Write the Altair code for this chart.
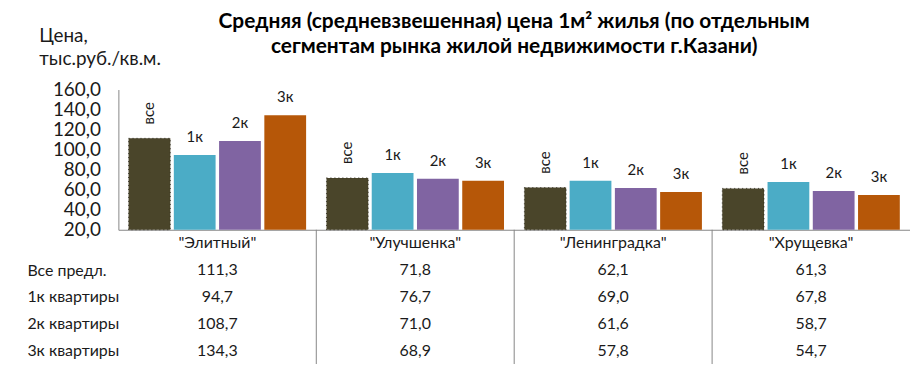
import altair as alt
import pandas as pd

groups = ['"Элитный"', '"Улучшенка"', '"Ленинградка"', '"Хрущевка"']
series = ["все", "1к", "2к", "3к"]
row_labels = ["Все предл.", "1к квартиры", "2к квартиры", "3к квартиры"]
vals_all = [111.3, 71.8, 62.1, 61.3]
vals_1k = [94.7, 76.7, 69.0, 67.8]
vals_2k = [108.7, 71.0, 61.6, 58.7]
vals_3k = [134.3, 68.9, 57.8, 54.7]
y_ticks = [20, 40, 60, 80, 100, 120, 140, 160]
colors = ["#4A452A", "#4BACC6", "#8064A2", "#B65708"]

FONT = "Lato"
GRAY = "#868686"
TXT = "#1a1a1a"

recs = []
for s, lab, vals in zip(series, row_labels, [vals_all, vals_1k, vals_2k, vals_3k]):
    for g, v in zip(groups, vals):
        recs.append({"group": g, "series": s, "row": lab, "value": v})
df = pd.DataFrame(recs)

xscale = alt.Scale(domain=groups, paddingInner=0, paddingOuter=0)
yscale = alt.Scale(domain=[20, 160], zero=False, nice=False)

base = alt.Chart(df)

x_top = alt.X("group:N", sort=groups, scale=xscale,
              axis=alt.Axis(labels=False, ticks=False, title=None,
                            domainColor=GRAY, domainWidth=1))
xoff = alt.XOffset("series:N", sort=series,
                   scale=alt.Scale(domain=series, paddingInner=0.077, paddingOuter=0.225))
y_top = alt.Y("value:Q", scale=yscale,
              axis=alt.Axis(values=y_ticks, grid=False, ticks=False,
                            domainColor=GRAY, domainWidth=1,
                            labelExpr="replace(format(datum.value, '.1f'), '.', ',')",
                            labelFont=FONT, labelFontSize=19, labelColor=TXT,
                            labelPadding=18,
                            title=["Цена,", "тыс.руб./кв.м."], titleAngle=0,
                            titleAlign="left", titleBaseline="top",
                            titleX=-80, titleY=-63, titleFont=FONT,
                            titleFontSize=19, titleFontWeight="normal",
                            titleLineHeight=23, titleColor=TXT))

bars = base.mark_bar().encode(
    x=x_top, xOffset=xoff, y=y_top, y2=alt.datum(20),
    color=alt.Color("series:N", scale=alt.Scale(domain=series, range=colors), legend=None),
)

outline = base.transform_filter(alt.datum.series == "все").mark_bar(
    filled=False, stroke="#1f1d12", strokeWidth=1, strokeDash=[1, 3], strokeOpacity=0.8,
).encode(x=x_top, xOffset=xoff, y=y_top, y2=alt.datum(20))

lab_all = base.transform_filter(alt.datum.series == "все").mark_text(
    angle=270, align="left", baseline="middle", dx=14,
    font=FONT, fontSize=15, color=TXT,
).encode(x=x_top, xOffset=xoff, y=y_top, text="series:N")

lab_other = base.transform_filter(alt.datum.series != "все").mark_text(
    align="center", baseline="middle", dy=-18,
    font=FONT, fontSize=15, color=TXT,
).encode(x=x_top, xOffset=xoff, y=y_top, text="series:N")

top = alt.layer(bars, outline, lab_all, lab_other).properties(
    width=796, height=141,
    title=alt.TitleParams(
        text=["Средняя (средневзвешенная) цена 1м² жилья (по отдельным",
              "сегментам рынка жилой недвижимости г.Казани)"],
        anchor="middle", frame="group", font=FONT, fontSize=21,
        fontWeight="bold", lineHeight=25, color="#000000", offset=-30,
    ),
)

# table below
rows_order = ["cat"] + row_labels
cat_df = pd.DataFrame({"group": groups, "row": ["cat"] * len(groups), "label": groups})

x_tab = alt.X("group:N", sort=groups, scale=xscale, axis=None)
y_tab = alt.Y("row:N", sort=rows_order,
              scale=alt.Scale(domain=rows_order, paddingInner=0, paddingOuter=0),
              axis=alt.Axis(title=None, domain=False, ticks=False, labelAlign="left",
                            labelPadding=92, labelFont=FONT, labelFontSize=16,
                            labelColor=TXT,
                            labelExpr="datum.value == 'cat' ? '' : datum.value"))

tab_vals = base.transform_calculate(
    label="replace(format(datum.value, '.1f'), '.', ',')"
).mark_text(font=FONT, fontSize=16, color=TXT, baseline="middle").encode(
    x=x_tab, y=y_tab, text="label:N")

tab_cats = alt.Chart(cat_df).mark_text(font=FONT, fontSize=16, color=TXT,
                                       baseline="middle").encode(
    x=x_tab, y=y_tab, text="label:N")

seps = alt.Chart(pd.DataFrame({"group": groups[1:]})).mark_rule(
    color=GRAY, strokeWidth=1).encode(
    x=alt.X("group:N", sort=groups, scale=xscale, bandPosition=0, axis=None))

table = alt.layer(seps, tab_cats, tab_vals).properties(width=796, height=135)

chart = alt.vconcat(top, table, spacing=0, bounds="flush").properties(
    padding={"left": 19, "top": 2, "right": 0, "bottom": 0},
).configure_view(stroke=None).configure_concat(spacing=0)

chart.save("out.html", embed_options={"renderer": "svg", "actions": False})
